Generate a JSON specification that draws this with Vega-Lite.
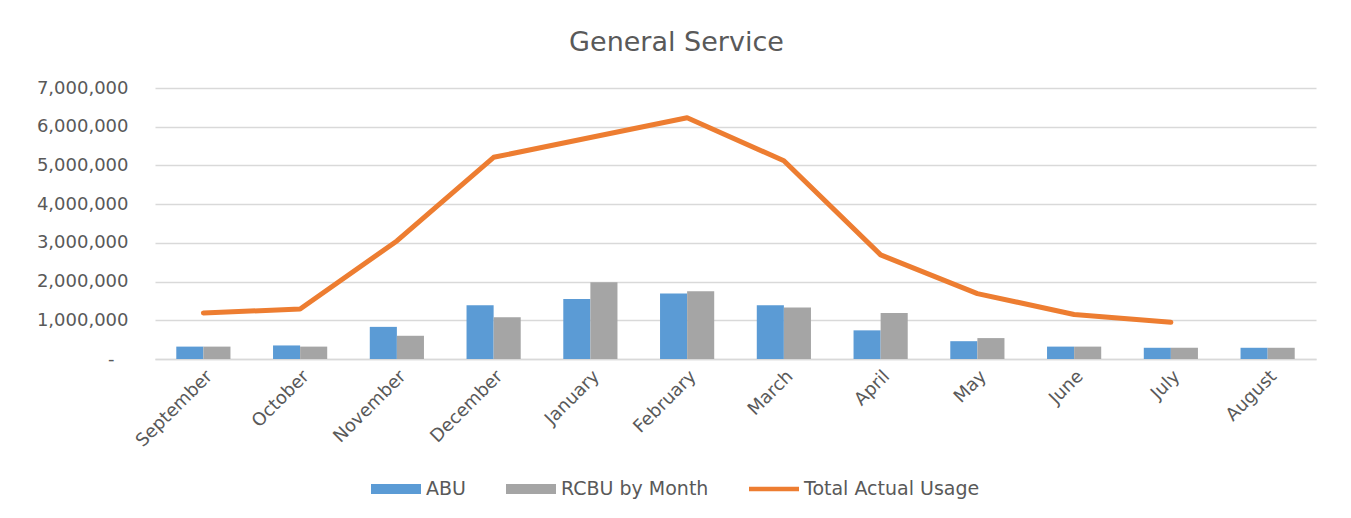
{
  "$schema": "https://vega.github.io/schema/vega-lite/v6.json",
  "autosize": {"type": "none"},
  "width": 1161,
  "height": 271,
  "padding": {"left": 155, "top": 88, "right": 35, "bottom": 159},
  "background": "white",
  "title": {
    "text": "General Service",
    "font": "DejaVu Sans",
    "fontSize": 27,
    "fontWeight": "normal",
    "color": "#595959",
    "anchor": "middle",
    "dx": -59,
    "offset": 22
  },
  "config": {
    "view": {"stroke": null},
    "font": "DejaVu Sans"
  },
  "datasets": {
    "bars": [
      {"month": "September", "series": "ABU", "value": 320000},
      {"month": "September", "series": "RCBU by Month", "value": 320000},
      {"month": "October", "series": "ABU", "value": 350000},
      {"month": "October", "series": "RCBU by Month", "value": 320000},
      {"month": "November", "series": "ABU", "value": 830000},
      {"month": "November", "series": "RCBU by Month", "value": 600000},
      {"month": "December", "series": "ABU", "value": 1390000},
      {"month": "December", "series": "RCBU by Month", "value": 1080000},
      {"month": "January", "series": "ABU", "value": 1550000},
      {"month": "January", "series": "RCBU by Month", "value": 1980000},
      {"month": "February", "series": "ABU", "value": 1690000},
      {"month": "February", "series": "RCBU by Month", "value": 1750000},
      {"month": "March", "series": "ABU", "value": 1390000},
      {"month": "March", "series": "RCBU by Month", "value": 1330000},
      {"month": "April", "series": "ABU", "value": 740000},
      {"month": "April", "series": "RCBU by Month", "value": 1190000},
      {"month": "May", "series": "ABU", "value": 460000},
      {"month": "May", "series": "RCBU by Month", "value": 540000},
      {"month": "June", "series": "ABU", "value": 320000},
      {"month": "June", "series": "RCBU by Month", "value": 320000},
      {"month": "July", "series": "ABU", "value": 290000},
      {"month": "July", "series": "RCBU by Month", "value": 290000},
      {"month": "August", "series": "ABU", "value": 290000},
      {"month": "August", "series": "RCBU by Month", "value": 290000}
    ],
    "total": [
      {"month": "September", "value": 1190000},
      {"month": "October", "value": 1290000},
      {"month": "November", "value": 3050000},
      {"month": "December", "value": 5210000},
      {"month": "January", "value": 5720000},
      {"month": "February", "value": 6230000},
      {"month": "March", "value": 5120000},
      {"month": "April", "value": 2690000},
      {"month": "May", "value": 1690000},
      {"month": "June", "value": 1150000},
      {"month": "July", "value": 950000}
    ]
  },
  "encoding": {
    "x": {
      "field": "month",
      "type": "nominal",
      "sort": ["September","October","November","December","January","February","March","April","May","June","July","August"],
      "scale": {"paddingInner": 0.44, "paddingOuter": 0.22},
      "axis": {
        "title": null,
        "labelAngle": -45,
        "labelPadding": 8,
        "labelFont": "DejaVu Sans",
        "labelFontSize": 18,
        "labelColor": "#595959",
        "ticks": false,
        "domainColor": "#d9d9d9",
        "domainWidth": 1.5,
        "grid": false
      }
    },
    "y": {
      "field": "value",
      "type": "quantitative",
      "scale": {"domain": [0, 7000000], "nice": false},
      "axis": {
        "title": null,
        "values": [0,1000000,2000000,3000000,4000000,5000000,6000000,7000000],
        "labelExpr": "datum.value == 0 ? '-' : format(datum.value, ',')",
        "labelFont": "DejaVu Sans",
        "labelFontSize": 18,
        "labelColor": "#595959",
        "labelPadding": {"condition": {"test": "datum.value == 0", "value": 41}, "value": 27},
        "labelOverlap": false,
        "ticks": false,
        "domain": false,
        "gridColor": "#d9d9d9",
        "gridWidth": 1.5
      }
    }
  },
  "layer": [
    {
      "data": {"name": "bars"},
      "mark": {"type": "bar"},
      "encoding": {
        "xOffset": {"field": "series", "type": "nominal", "scale": {"paddingInner": 0, "paddingOuter": 0}},
        "color": {
          "field": "series",
          "type": "nominal",
          "scale": {
            "domain": ["ABU", "RCBU by Month", "Total Actual Usage"],
            "range": ["#5B9BD5", "#A5A5A5", "#ED7D31"]
          },
          "legend": {
            "title": null,
            "orient": "none",
            "direction": "horizontal",
            "legendX": 216,
            "legendY": 376,
            "labelFont": "DejaVu Sans",
            "labelFontSize": 19,
            "labelColor": "#595959",
            "labelLimit": 400,
            "labelOffset": 5,
            "columnPadding": 40,
            "symbolSize": 2500,
            "encode": {
              "symbols": {
                "update": {
                  "fill": {"scale": "color", "field": "value"},
                  "stroke": {"value": "transparent"},
                  "strokeWidth": {"value": 0},
                  "opacity": {"value": 1},
                  "shape": {"signal": "datum.value === 'Total Actual Usage' ? 'M-1,-0.09H1V0.09H-1Z' : 'M-1,-0.2H1V0.2H-1Z'"}
                }
              }
            }
          }
        }
      }
    },
    {
      "data": {"name": "total"},
      "mark": {"type": "line", "strokeWidth": 5, "strokeCap": "round", "strokeJoin": "round"},
      "encoding": {
        "color": {"datum": "Total Actual Usage"},
        "order": {"value": null}
      }
    }
  ]
}
